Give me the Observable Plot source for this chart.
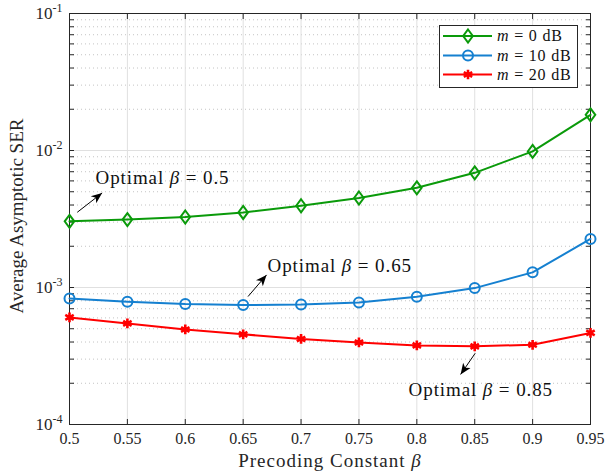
<!DOCTYPE html>
<html><head><meta charset="utf-8">
<script src="https://cdn.jsdelivr.net/npm/d3@7"></script>
<script src="https://cdn.jsdelivr.net/npm/@observablehq/plot@0.6"></script>
<style>
body{margin:0;background:#fff;}
#wrap{position:relative;width:605px;height:472px;font-family:"Liberation Serif",serif;}
#legend{position:absolute;left:0;top:0;}
</style></head><body><div id="wrap"></div>
<script>
// ---------- data ----------
const beta = [0.5, 0.55, 0.6, 0.65, 0.7, 0.75, 0.8, 0.85, 0.9, 0.95];
const ser0  = [3.04e-3, 3.13e-3, 3.27e-3, 3.53e-3, 3.95e-3, 4.50e-3, 5.34e-3, 6.87e-3, 9.85e-3, 1.82e-2];
const ser10 = [8.32e-4, 7.87e-4, 7.57e-4, 7.45e-4, 7.52e-4, 7.78e-4, 8.55e-4, 9.9e-4, 1.29e-3, 2.26e-3];
const ser20 = [6.05e-4, 5.47e-4, 4.94e-4, 4.55e-4, 4.21e-4, 3.97e-4, 3.78e-4, 3.72e-4, 3.82e-4, 4.66e-4];
const seriesNames = ["m = 0 dB", "m = 10 dB", "m = 20 dB"];
const xTicks = [0.5, 0.55, 0.6, 0.65, 0.7, 0.75, 0.8, 0.85, 0.9, 0.95];
const xTickLabels = ["0.5", "0.55", "0.6", "0.65", "0.7", "0.75", "0.8", "0.85", "0.9", "0.95"];
const yMajor = [1e-4, 1e-3, 1e-2, 1e-1];
const yTickLabels = ["-4", "-3", "-2", "-1"];
const yMinor = [1e-4, 1e-3, 1e-2].flatMap(d => [2,3,4,5,6,7,8,9].map(k => d * k));
const xLabel = "Precoding Constant β";
const yLabel = "Average Asymptotic SER";
const annotations = [
  {text: "Optimal β = 0.5",  tx: 0.5225, ty: 6.33e-3, x1: 0.5067, y1: 3.54e-3, x2: 0.5282, y2: 4.90e-3},
  {text: "Optimal β = 0.65", tx: 0.6711, ty: 1.445e-3, x1: 0.6542, y1: 8.59e-4, x2: 0.6702, y2: 1.236e-3},
  {text: "Optimal β = 0.85", tx: 0.7929, ty: 1.80e-4, x1: 0.8504, y1: 3.31e-4, x2: 0.8378, y2: 2.32e-4}
];

// ---------- styling ----------
const colors = ["#0a9a0a", "#1580d0", "#ff0000"];
const FONT = "Liberation Serif";
const W = 605, H = 472;
const M = {left: 69, right: 15, top: 13, bottom: 48};

const table = [ser0, ser10, ser20].flatMap((arr, s) =>
  arr.map((v, i) => ({beta: beta[i], ser: v, s: seriesNames[s]})));

const nearestIndex = (arr, v, log) => d3.minIndex(arr, a => Math.abs(log ? Math.log10(a) - Math.log10(v) : a - v));

const diamond = {draw(ctx) { ctx.moveTo(0, -6.5); ctx.lineTo(4.8, 0); ctx.lineTo(0, 6.5); ctx.lineTo(-4.8, 0); ctx.closePath(); }};
const arrowHead = {draw(ctx) { ctx.moveTo(0, 0); ctx.lineTo(-11, -4.5); ctx.lineTo(-8, 0); ctx.lineTo(-11, 4.5); ctx.closePath(); }};

function build(angles) {
  const marks = [
    Plot.ruleY(yMinor, {stroke: "#c4c4c4", strokeDasharray: "1,3", strokeWidth: 1}),
    Plot.ruleX(xTicks, {stroke: "#e0e0e0", strokeWidth: 1}),
    Plot.ruleY(yMajor, {stroke: "#e0e0e0", strokeWidth: 1}),
    // tick labels
    Plot.axisX({ticks: xTicks, tickSize: 0, tickPadding: 8, tickFormat: d => xTickLabels[nearestIndex(xTicks, d, false)], fontSize: 16, fill: "#262626", label: null}),
    Plot.axisY({ticks: yMajor, tickSize: 0, tickPadding: 7, tickFormat: d => "§" + yTickLabels[nearestIndex(yMajor, d, true)], fontSize: 17, fill: "#262626", label: null}),
    // inward tick marks
    Plot.axisX({ticks: xTicks, tickSize: -5, tickFormat: () => "", label: null, stroke: "#262626"}),
    Plot.axisX({anchor: "top", ticks: xTicks, tickSize: -5, tickFormat: () => "", label: null, stroke: "#262626"}),
    Plot.axisY({ticks: yMajor.concat(yMinor), tickSize: -5, tickFormat: () => "", label: null, stroke: "#262626"}),
    Plot.axisY({anchor: "right", ticks: yMajor.concat(yMinor), tickSize: -5, tickFormat: () => "", label: null, stroke: "#262626"}),
    Plot.frame({stroke: "#262626", strokeWidth: 1}),
    // data
    Plot.line(table, {x: "beta", y: "ser", z: "s", stroke: "s", strokeWidth: 2}),
    Plot.dot(table.filter(d => d.s === seriesNames[0]), {x: "beta", y: "ser", stroke: "s", symbol: diamond, fill: "none", strokeWidth: 2, r: 5}),
    Plot.dot(table.filter(d => d.s === seriesNames[1]), {x: "beta", y: "ser", stroke: "s", symbol: "circle", fill: "none", strokeWidth: 2, r: 5}),
    Plot.dot(table.filter(d => d.s === seriesNames[2]), {x: "beta", y: "ser", stroke: "s", symbol: "asterisk", strokeWidth: 2.6, r: 4.6}),
    // annotations
    Plot.link(annotations, {x1: "x1", y1: "y1", x2: "x2", y2: "y2", stroke: "black", strokeWidth: 1}),
    Plot.text(annotations, {x: "tx", y: "ty", text: "text", textAnchor: "start", lineAnchor: "middle", fontSize: 19, fill: "#111"}),
    // axis titles
    Plot.text([xLabel], {text: d => d, frameAnchor: "bottom", textAnchor: "middle", dy: 36, lineAnchor: "middle", fontSize: 19, fill: "#262626"}),
    Plot.text([yLabel], {text: d => d, frameAnchor: "left", textAnchor: "middle", dx: -53, dy: -3, rotate: -90, lineAnchor: "middle", fontSize: 19, fill: "#262626"})
  ];
  if (angles) {
    marks.push(Plot.dot(annotations, {x: "x2", y: "y2", symbol: arrowHead, rotate: (d, i) => angles[i], fill: "black", stroke: "none", r: 5}));
  }
  return Plot.plot({
    width: W, height: H,
    marginLeft: M.left, marginRight: M.right, marginTop: M.top, marginBottom: M.bottom,
    style: {fontFamily: FONT, background: "#fff", overflow: "visible"},
    x: {domain: [0.5, 0.95], axis: null},
    y: {type: "log", domain: [1e-4, 1e-1], axis: null},
    color: {domain: seriesNames, range: colors},
    marks
  });
}

const probe = build(null);
const sx = probe.scale("x"), sy = probe.scale("y");
const angles = annotations.map(a =>
  Math.atan2(sy.apply(a.y2) - sy.apply(a.y1), sx.apply(a.x2) - sx.apply(a.x1)) * 180 / Math.PI);
const chart = build(angles);

// post-process texts: superscripts and italic symbols
chart.querySelectorAll("text").forEach(t => {
  const s = t.textContent;
  if (s.startsWith("§")) {
    t.innerHTML = `10<tspan dy="-0.55em" font-size="12">${s.slice(1)}</tspan>`;
  } else if (s.includes("β")) {
    t.innerHTML = s.replace("β", '<tspan font-style="italic">β</tspan>');
    t.setAttribute("letter-spacing", s.startsWith("Optimal") ? "0.9" : "1");
  }
});
document.getElementById("wrap").appendChild(chart);

// ---------- legend ----------
const lg = d3.select("#wrap").append("svg").attr("id", "legend").attr("width", W).attr("height", H);
lg.append("rect").attr("x", 439.5).attr("y", 25.5).attr("width", 138).attr("height", 62)
  .attr("fill", "#fff").attr("stroke", "#262626").attr("stroke-width", 1);
const rowY = [36, 55.5, 74.5];
const legendSymbols = [d3.symbol(diamond)(), d3.symbol(d3.symbolCircle, Math.PI * 25)(), d3.symbol(d3.symbolAsterisk, Math.PI * 4.6 * 4.6)()];
seriesNames.forEach((name, i) => {
  const g = lg.append("g").attr("transform", `translate(0,${rowY[i]})`);
  g.append("line").attr("x1", 443).attr("x2", 492).attr("y1", 0).attr("y2", 0).attr("stroke", colors[i]).attr("stroke-width", 2);
  g.append("path").attr("transform", "translate(468,0)").attr("d", legendSymbols[i])
    .attr("fill", "none").attr("stroke", colors[i]).attr("stroke-width", i === 2 ? 2.6 : 2);
  const parts = name.split(" = ");
  const t = g.append("text").attr("x", 497).attr("y", 0).attr("dy", "0.34em")
    .attr("font-family", FONT).attr("font-size", 16).attr("letter-spacing", 0.8).attr("fill", "#111");
  t.append("tspan").attr("font-style", "italic").text(parts[0].trim());
  t.append("tspan").text(" = " + parts[1]);
});
</script></body></html>
